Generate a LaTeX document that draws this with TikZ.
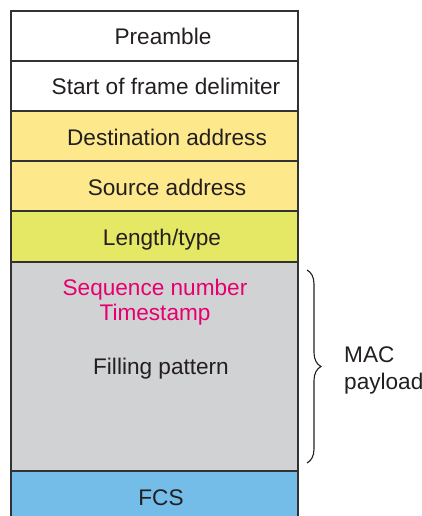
\documentclass[tikz,border=0pt]{standalone}
\usepackage{fontspec}
\setmainfont{Liberation Sans}
\usetikzlibrary{decorations.pathreplacing}
\definecolor{yel}{RGB}{253,232,140}
\definecolor{ltyp}{RGB}{228,232,100}
\definecolor{pay}{RGB}{209,210,212}
\definecolor{fcs}{RGB}{116,189,232}
\definecolor{mag}{RGB}{230,0,110}
\definecolor{txt}{RGB}{35,31,32}
\definecolor{edge}{RGB}{50,50,50}
\begin{document}
\begin{tikzpicture}[x=1pt,y=-1pt,
  row/.style={draw=edge,line width=1.4pt},
  lbl/.style={font=\fontsize{22.6}{27}\selectfont,text=txt,inner sep=0pt,anchor=base}]
\useasboundingbox (0,0) rectangle (421,516);
\clip (0,0) rectangle (421,516);
\fill[white] (0,0) rectangle (421,516);
\filldraw[row,fill=white] (11,11) rectangle (298,61);
\filldraw[row,fill=white] (11,61) rectangle (298,111);
\filldraw[row,fill=yel] (11,111) rectangle (298,161);
\filldraw[row,fill=yel] (11,161) rectangle (298,211);
\filldraw[row,fill=ltyp] (11,211) rectangle (298,262);
\filldraw[row,fill=pay] (11,262) rectangle (298,471);
\filldraw[row,fill=fcs] (11,471) rectangle (298,530);
\node[lbl] (pre) at (163,45) {Preamble};
\node[lbl] (sfd) at (166,95) {Start of frame delimiter};
\node[lbl] (dst) at (167,145) {Destination address};
\node[lbl] (src) at (167,195) {Source address};
\node[lbl] (len) at (162,245) {Length/type};
\node[lbl,text=mag] (seq) at (155,295) {Sequence number};
\node[lbl,text=mag] (ts) at (155,320) {Timestamp};
\node[lbl] (fill) at (161,374) {Filling pattern};
\node[lbl] (fcsl) at (161,505) {FCS};
\coordinate (bt) at (307,270);
\coordinate (bb) at (307,463);
\draw[line width=1.1pt,draw=txt,decorate,decoration={brace,amplitude=14pt}] (bt) -- (bb);
\node[lbl,anchor=base west] (mac) at (344,362) {MAC};
\node[lbl,anchor=base west] (pay) at (344,389) {payload};
\end{tikzpicture}
\end{document}
